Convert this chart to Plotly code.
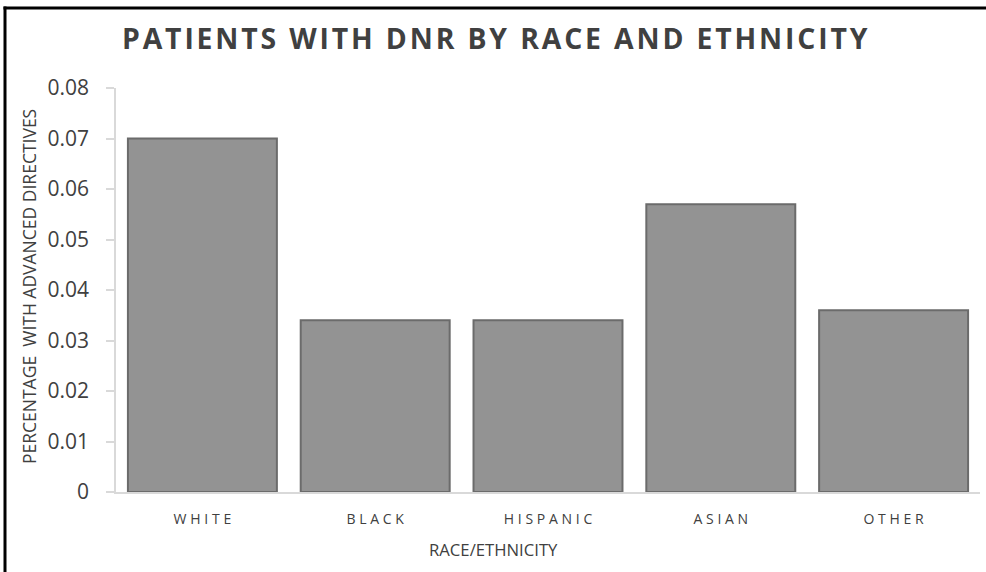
import plotly.graph_objects as go

categories = ["WHITE", "BLACK", "HISPANIC", "ASIAN", "OTHER"]
values = [0.070, 0.034, 0.034, 0.057, 0.036]
y_ticks = [0, 0.01, 0.02, 0.03, 0.04, 0.05, 0.06, 0.07, 0.08]
y_tick_labels = ["0", "0.01", "0.02", "0.03", "0.04", "0.05", "0.06", "0.07", "0.08"]
title_text = "PATIENTS WITH DNR BY RACE AND ETHNICITY"

def spaced(s, sep):
    return sep.join(list(s))

W, H = 986, 572
ml, mr, mt, mb = 116, 6, 88, 80
pw, ph = W - ml - mr, H - mt - mb

def px_x(x):
    return (x - ml) / pw
def px_y(y):
    return (H - mb - y) / ph

fig = go.Figure()
fig.add_trace(go.Bar(
    x=categories, y=values,
    marker=dict(color="#939393", line=dict(color="#6b6b6b", width=2)),
    hoverinfo="x+y",
))

fig.update_layout(
    width=W, height=H,
    margin=dict(l=ml, r=mr, t=mt, b=mb),
    paper_bgcolor="white", plot_bgcolor="white",
    bargap=0.138,
    showlegend=False,
    font=dict(family="Open Sans", color="#404040"),
)

fig.update_xaxes(
    tickmode="array", tickvals=categories,
    ticktext=[spaced(c, "\u2009\u200a") for c in categories],
    tickfont=dict(family="Open Sans", size=14, color="#404040"),
    showline=True, linecolor="#d9d9d9", linewidth=1.5,
    ticks="", showgrid=False,
    ticklabelstandoff=13,
)
fig.update_yaxes(
    range=[0, 0.08],
    tickmode="array", tickvals=y_ticks, ticktext=y_tick_labels,
    tickfont=dict(family="Open Sans", size=21, color="#404040"),
    showline=True, linecolor="#d9d9d9", linewidth=1.5,
    ticks="outside", ticklen=8, tickcolor="#d9d9d9", tickwidth=1.5,
    ticklabelstandoff=13,
    showgrid=False, zeroline=False,
)

# Title
fig.add_annotation(
    x=px_x(495), y=px_y(38), xref="paper", yref="paper",
    text="<b>" + spaced(title_text, "\u200a") + "</b>",
    showarrow=False, xanchor="center", yanchor="middle",
    font=dict(family="Open Sans", size=28.4, color="#404040"),
)
# X axis title
fig.add_annotation(
    x=px_x(493), y=px_y(549), xref="paper", yref="paper",
    text="RACE/ETHNICITY", showarrow=False,
    xanchor="center", yanchor="middle",
    font=dict(family="Open Sans", size=16.7, color="#404040"),
)
# Y axis title
fig.add_annotation(
    x=px_x(29), y=px_y(287), xref="paper", yref="paper",
    text="PERCENTAGE  WITH ADVANCED DIRECTIVES", showarrow=False,
    textangle=-90, xanchor="center", yanchor="middle",
    font=dict(family="Open Sans", size=17.5, color="#404040"),
)

# Border lines (top and left)
fig.add_shape(type="line", xref="paper", yref="paper",
              x0=px_x(3.5), x1=px_x(990), y0=px_y(8), y1=px_y(8),
              line=dict(color="black", width=3))
fig.add_shape(type="line", xref="paper", yref="paper",
              x0=px_x(5), x1=px_x(5), y0=px_y(6.5), y1=px_y(580),
              line=dict(color="black", width=3))

fig.write_html("out.html")
